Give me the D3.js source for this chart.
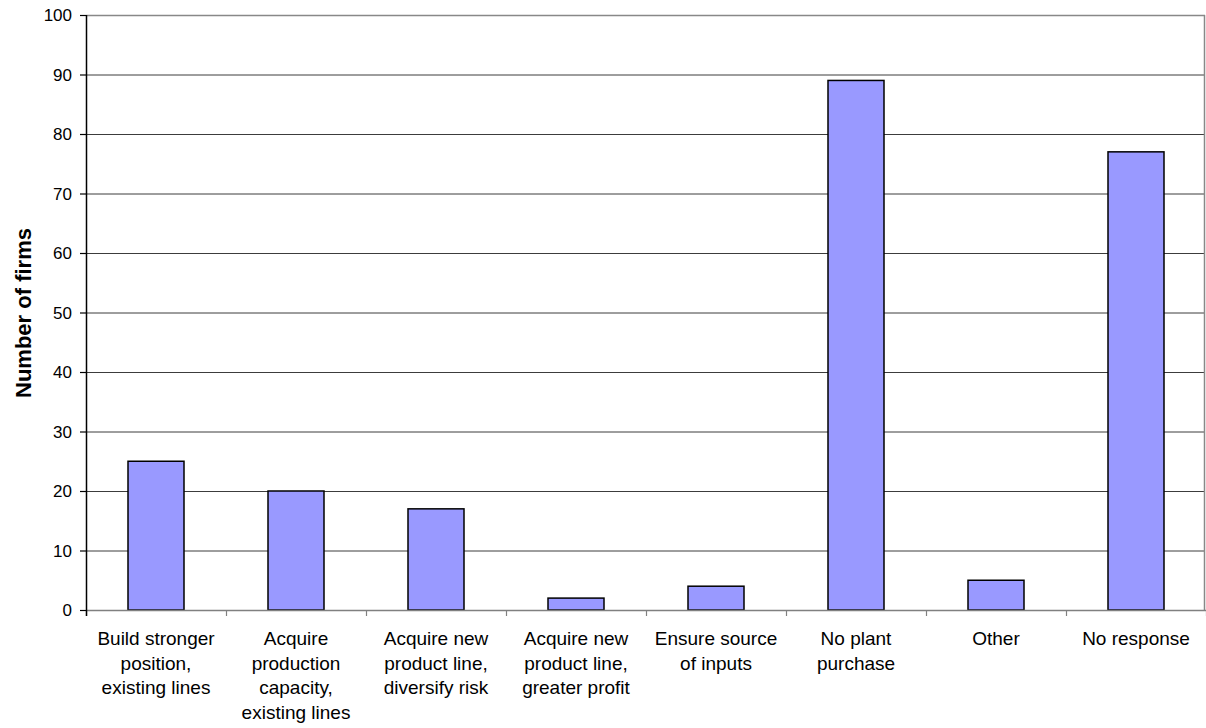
<!DOCTYPE html>
<html><head><meta charset="utf-8">
<script src="https://cdn.jsdelivr.net/npm/d3@7"></script>
<style>body{margin:0;background:#fff}svg{display:block}text{font-family:"Liberation Sans",Arial,sans-serif;fill:#000}</style>
</head><body>
<svg id="c" width="1206" height="728"></svg>
<script>
const categories = [
  ["Build stronger","position,","existing lines"],
  ["Acquire","production","capacity,","existing lines"],
  ["Acquire new","product line,","diversify risk"],
  ["Acquire new","product line,","greater profit"],
  ["Ensure source","of inputs"],
  ["No plant","purchase"],
  ["Other"],
  ["No response"]
];
const values = [25, 20, 17, 2, 4, 89, 5, 77];
const yTicks = [0,10,20,30,40,50,60,70,80,90,100];
const yTitle = "Number of firms";

(function(){
const svg = d3.select("#c");
const pL = 86, pR = 1206, pT = 15, pB = 610;
const x = d3.scaleBand().domain(d3.range(categories.length)).range([pL, pR]).padding(0);
const y = d3.scaleLinear().domain([0,100]).range([pB, pT]);

// gridlines
svg.append("g").selectAll("line").data(yTicks.filter(t=>t>0 && t<100)).join("line")
  .attr("x1", pL).attr("x2", pR-1).attr("y1", d=>y(d)+0.5).attr("y2", d=>y(d)+0.5)
  .attr("stroke", "#3c3c3c").attr("stroke-width", 1);
// top & right border
svg.append("line").attr("x1", pL).attr("x2", pR-1).attr("y1", pT+0.5).attr("y2", pT+0.5).attr("stroke","#888").attr("stroke-width",1.5);
svg.append("line").attr("x1", pR-1.5).attr("x2", pR-1.5).attr("y1", pT).attr("y2", pB).attr("stroke","#888").attr("stroke-width",1.5);

// bars
const bw = x.bandwidth()*0.4;
svg.append("g").selectAll("rect").data(values).join("rect")
  .attr("x", (d,i)=>x(i)+x.bandwidth()/2-bw/2)
  .attr("width", bw)
  .attr("y", d=>y(d))
  .attr("height", d=>y(0)-y(d))
  .attr("fill", "#9999ff").attr("stroke", "#000").attr("stroke-width", 1.5);

// x axis
const xAxis = svg.append("g");
xAxis.append("line").attr("x1", pL).attr("x2", pR).attr("y1", pB+0.5).attr("y2", pB+0.5).attr("stroke","#808080").attr("stroke-width",1.5);
xAxis.selectAll("line.tk").data(d3.range(categories.length+1)).join("line").attr("class","tk")
  .attr("x1", i=>pL + i*x.bandwidth()+0.5).attr("x2", i=>pL + i*x.bandwidth()+0.5)
  .attr("y1", pB).attr("y2", pB+6).attr("stroke","#808080").attr("stroke-width",1.2);
const lbl = xAxis.selectAll("text").data(categories).join("text")
  .attr("text-anchor","middle").attr("font-size","19px")
  .attr("transform",(d,i)=>`translate(${x(i)+x.bandwidth()/2},645)`);
lbl.selectAll("tspan").data(d=>d).join("tspan").attr("x",0).attr("y",(d,j)=>j*24.7).text(d=>d);

// y axis
const yAxis = svg.append("g");
yAxis.append("line").attr("x1", pL+0.5).attr("x2", pL+0.5).attr("y1", pT).attr("y2", pB+6).attr("stroke","#000").attr("stroke-width",1.5);
yAxis.selectAll("line.tk").data(yTicks).join("line").attr("class","tk")
  .attr("x1", pL-6).attr("x2", pL).attr("y1", d=>y(d)+0.5).attr("y2", d=>y(d)+0.5).attr("stroke","#000").attr("stroke-width",1.2);
yAxis.selectAll("text").data(yTicks).join("text")
  .attr("x", 72).attr("y", d=>y(d)+6).attr("text-anchor","end").attr("font-size","17px").text(d=>d);

svg.append("text").attr("transform","translate(31,313) rotate(-90)").attr("text-anchor","middle")
  .attr("font-size","22px").attr("font-weight","bold").text(yTitle);
})();
</script>
</body></html>
